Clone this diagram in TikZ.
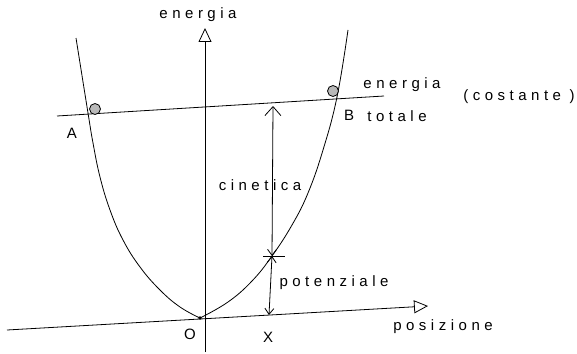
\documentclass[tikz,border=0pt]{standalone}
\usepackage{fontspec}
\setmainfont{Liberation Sans}[LetterSpace=30]
\usetikzlibrary{arrows.meta}
\begin{document}
\begin{tikzpicture}[x=1pt,y=-1pt,
  ln/.style={line width=0.8pt, black},
  axarrow/.style={ln, -{Triangle[open, length=14pt, width=13pt]}},
  dbl/.style={ln, {Straight Barb[length=6pt,width=9pt]}-{Straight Barb[length=6pt,width=9pt]}},
  lbl/.style={font=\fontsize{15}{17}\selectfont, inner sep=1pt},
  ball/.style={ln, fill=gray!55}]
\useasboundingbox (0,0) rectangle (577,353);
% axes
\coordinate (vb) at (205,352);
\coordinate (vt) at (205,28);
\coordinate (hl) at (7,330);
\coordinate (hr) at (428,306);
\coordinate (O) at (200,318);
\draw[axarrow] (vb) -- (vt);
\draw[axarrow] (hl) -- (hr);
% parabola
\draw[ln] plot[smooth, tension=0.7] coordinates {(76,38) (88,113) (93,143) (100,177) (110,210) (123,240) (140,267) (160,290) (180,307) (200,318)};
\draw[ln] plot[smooth, tension=0.7] coordinates {(200,318) (228,302) (252,281) (272,256) (292,225) (308,193) (323,150) (337,97) (348,30)};
\fill (O) circle (1.8);
% total energy line
\coordinate (el) at (57,116);
\coordinate (er) at (384,96);
\draw[ln] (el) -- (er);
\draw[ball] (95,109) circle (5.5);
\draw[ball] (333,91) circle (5.5);
% energy arrows
\coordinate (top) at (273,106);
\coordinate (mid) at (272,256);
\coordinate (bot) at (269,315);
\draw[ln, {Straight Barb[length=9pt,width=16pt]}-{Straight Barb[length=6pt,width=9pt]}] (top) -- (mid);
\draw[dbl] (mid) -- (bot);
\coordinate (tl) at (263,256);
\coordinate (tr) at (285,256);
\draw[ln] (tl) -- (tr);
% labels
\node[lbl] (ten) at (198,15) {energia};
\node[lbl] (tpos) at (443,327) {posizione};
\node[lbl] (tO) at (190,334) {O};
\node[lbl] (tX) at (268,337) {X};
\node[lbl] (tA) at (72,133) {A};
\node[lbl] (tB) at (349,115) {B};
\node[lbl] (ttot) at (397,116) {totale};
\node[lbl] (ten2) at (402,85) {energia};
\node[lbl] (tcost) at (519,97) {(costante )};
\node[lbl] (tcin) at (260,185) {cinetica};
\node[lbl] (tpot) at (334,283) {potenziale};
\end{tikzpicture}
\end{document}
